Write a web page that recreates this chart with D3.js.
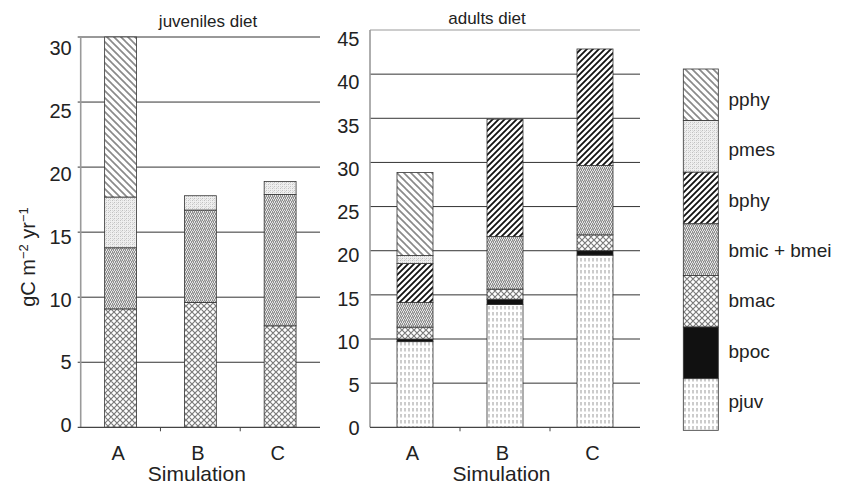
<!DOCTYPE html>
<html>
<head>
<meta charset="utf-8">
<script src="https://cdn.jsdelivr.net/npm/d3@7"></script>
<style>
  html, body { margin: 0; padding: 0; background: #fff; }
  svg { display: block; font-family: "Liberation Sans", Arial, Helvetica, sans-serif; }
</style>
</head>
<body>
<svg id="chart" width="849" height="485"></svg>
<script>
// ---------------- DATA ----------------
const categories = ["A", "B", "C"];
// stacking order bottom -> top
const seriesKeys = ["pjuv", "bpoc", "bmac", "bmic + bmei", "bphy", "pmes", "pphy"];
const legendOrder = ["pphy", "pmes", "bphy", "bmic + bmei", "bmac", "bpoc", "pjuv"];

// juveniles diet (gC m-2 yr-1)
const juvPjuv = [0, 0, 0];
const juvBpoc = [0, 0, 0];
const juvBmac = [9.1, 9.6, 7.8];
const juvBmic = [4.7, 7.1, 10.1];
const juvBphy = [0, 0, 0];
const juvPmes = [3.9, 1.1, 1.0];
const juvPphy = [12.3, 0, 0];

// adults diet (gC m-2 yr-1)
const adPjuv = [9.7, 13.9, 19.5];
const adBpoc = [0.3, 0.6, 0.5];
const adBmac = [1.35, 1.15, 1.8];
const adBmic = [2.8, 5.95, 7.85];
const adBphy = [4.4, 13.3, 13.2];
const adPmes = [0.9, 0, 0];
const adPphy = [9.4, 0, 0];

const juvTicks = [0, 5, 10, 15, 20, 25, 30];
const adTicks = [0, 5, 10, 15, 20, 25, 30, 35, 40, 45];

function buildRows(cols) {
  return categories.map((c, i) => {
    const r = { cat: c };
    seriesKeys.forEach((k, j) => r[k] = cols[j][i]);
    return r;
  });
}
const juvRows = buildRows([juvPjuv, juvBpoc, juvBmac, juvBmic, juvBphy, juvPmes, juvPphy]);
const adRows = buildRows([adPjuv, adBpoc, adBmac, adBmic, adBphy, adPmes, adPphy]);

// ---------------- PATTERNS ----------------
const svg = d3.select("#chart");
const defs = svg.append("defs");

function pat(id, w, h, bg, draw) {
  const p = defs.append("pattern").attr("id", id)
    .attr("patternUnits", "userSpaceOnUse").attr("width", w).attr("height", h);
  p.append("rect").attr("width", w).attr("height", h).attr("fill", bg);
  draw(p);
}
function px(p, pts, color) {
  pts.forEach(([a, b]) => p.append("rect").attr("x", a).attr("y", b)
    .attr("width", 1).attr("height", 1).attr("fill", color));
}
// pphy : light grey "\" hatch
pat("p-pphy", 7, 7, "#fff", p => p.append("path")
  .attr("d", "M-1,-1 L8,8 M-4.5,2.5 L0,7 L1,8 M2.5,-4.5 L8,1")
  .attr("stroke", "#8a8a8a").attr("stroke-width", 1.7));
// pmes : very light stipple
pat("p-pmes", 4, 4, "#efefef", p => {
  px(p, [[0, 0], [2, 2]], "#c0c0c0");
  px(p, [[2, 0], [0, 2], [1, 3]], "#d6d6d6");
});
// bphy : dark "/" hatch
pat("p-bphy", 6, 6, "#fff", p => p.append("path")
  .attr("d", "M-1,7 L7,-1 M-4,4 L4,-4 M2,10 L10,2")
  .attr("stroke", "#111").attr("stroke-width", 1.8));
// bmic + bmei : dense grey mottled texture
pat("p-bmic", 4, 4, "#e6e6e6", p => {
  px(p, [[0, 0], [2, 0], [1, 1], [3, 1], [1, 2], [3, 2], [0, 3], [2, 3]], "#8e8e8e");
  px(p, [[1, 0], [0, 1]], "#bcbcbc");
});
// bmac : cross hatch (diamonds)
pat("p-bmac", 6, 6, "#fff", p => p.append("path")
  .attr("d", "M0,0 L6,6 M6,0 L0,6 M-3,3 L0,6 M3,-3 L9,3 M-3,3 L3,-3 M3,9 L9,3")
  .attr("stroke", "#7a7a7a").attr("stroke-width", 1.2));
// pjuv : vertical dashes
pat("p-pjuv", 4, 6, "#fff", p => p.append("path")
  .attr("d", "M1,0 L1,3.5").attr("stroke", "#9a9a9a").attr("stroke-width", 1));

const fillFor = {
  "pphy": "url(#p-pphy)",
  "pmes": "url(#p-pmes)",
  "bphy": "url(#p-bphy)",
  "bmic + bmei": "url(#p-bmic)",
  "bmac": "url(#p-bmac)",
  "bpoc": "#111",
  "pjuv": "url(#p-pjuv)"
};

// ---------------- PANELS ----------------
const stack = d3.stack().keys(seriesKeys);

function panel(opt) {
  const g = svg.append("g");
  const x = d3.scalePoint().domain(categories).range([opt.x0, opt.x1]).padding(0.5);
  const step = x.step();
  const bw = step * 0.4;
  const y = d3.scaleLinear().domain([0, opt.max]).range([427.3, opt.top]);
  const yl = d3.scaleLinear().domain([0, opt.max]).range(opt.labelRange);

  // gridlines
  g.selectAll(".grid").data(opt.ticks.filter(t => t > 0)).join("line")
    .attr("x1", opt.x0 - opt.tickOut).attr("x2", opt.x1)
    .attr("y1", d => y(d)).attr("y2", d => y(d))
    .attr("stroke", d => (d === opt.max && opt.grayTop) ? "#9a9a9a" : "#333")
    .attr("stroke-width", 1);

  // tick labels
  g.selectAll(".tl").data(opt.ticks).join("text")
    .attr("x", opt.x0 - opt.labelGap).attr("y", d => yl(d)).attr("dy", "0.36em")
    .attr("text-anchor", "end").attr("font-size", 20).attr("fill", "#222")
    .text(d => d);

  // bars
  const series = stack(opt.rows);
  series.forEach(s => {
    g.selectAll(null).data(s.filter(d => d[1] - d[0] > 0)).join("rect")
      .attr("x", d => x(d.data.cat) - bw / 2)
      .attr("width", bw)
      .attr("y", d => y(d[1]))
      .attr("height", d => y(d[0]) - y(d[1]))
      .attr("fill", fillFor[s.key])
      .attr("stroke", "#333").attr("stroke-width", 0.8);
  });

  // y axis line
  g.append("line").attr("x1", opt.x0).attr("x2", opt.x0)
    .attr("y1", y(opt.max)).attr("y2", y(0))
    .attr("stroke", "#9a9a9a").attr("stroke-width", 1.6);
  // x axis line
  g.append("line").attr("x1", opt.x0 - opt.tickOut).attr("x2", opt.x1)
    .attr("y1", y(0)).attr("y2", y(0)).attr("stroke", "#444").attr("stroke-width", 1.2);
  // x ticks at band boundaries
  g.selectAll(".xt").data(categories.slice(1)).join("line")
    .attr("x1", d => x(d) - step / 2).attr("x2", d => x(d) - step / 2)
    .attr("y1", y(0)).attr("y2", y(0) + 4)
    .attr("stroke", "#444").attr("stroke-width", 1);

  // category labels
  g.selectAll(".cl").data(categories).join("text")
    .attr("x", d => x(d) - 2.5).attr("y", 460)
    .attr("text-anchor", "middle").attr("font-size", 20).attr("fill", "#222")
    .text(d => d);
  // axis title
  g.append("text").attr("x", (opt.x0 + opt.x1) / 2 - 3.5).attr("y", 481)
    .attr("text-anchor", "middle").attr("font-size", 21).attr("fill", "#222")
    .text("Simulation");
  // panel title
  g.append("text").attr("x", opt.titleX).attr("y", opt.titleY)
    .attr("text-anchor", "middle").attr("font-size", 17).attr("fill", "#222")
    .text(opt.title);
}

panel({ rows: juvRows, x0: 80.7, x1: 320, max: 30, top: 37, ticks: juvTicks,
        labelRange: [425, 48], labelGap: 9, tickOut: 3, grayTop: false,
        title: "juveniles diet", titleX: 208, titleY: 27 });
panel({ rows: adRows, x0: 370, x1: 640, max: 45, top: 30, ticks: adTicks,
        labelRange: [428, 39], labelGap: 10.5, tickOut: 0, grayTop: true,
        title: "adults diet", titleX: 487, titleY: 24 });

// y-axis title
const yt = svg.append("text")
  .attr("transform", "translate(35,257) rotate(-90)")
  .attr("text-anchor", "middle").attr("font-size", 20).attr("fill", "#222");
yt.append("tspan").text("gC m");
yt.append("tspan").attr("font-size", 13).attr("baseline-shift", "super").text("\u22122");
yt.append("tspan").text(" yr");
yt.append("tspan").attr("font-size", 13).attr("baseline-shift", "super").text("\u22121");

// ---------------- LEGEND ----------------
const lg = svg.append("g");
const ls = d3.scaleBand().domain(legendOrder).range([69, 430.3]);
const lt = d3.scalePoint().domain(legendOrder).range([106, 408]);
lg.selectAll("rect").data(legendOrder).join("rect")
  .attr("x", 683.3).attr("width", 35)
  .attr("y", d => ls(d)).attr("height", ls.bandwidth())
  .attr("fill", d => fillFor[d]).attr("stroke", "#333").attr("stroke-width", 0.8);
lg.selectAll("text").data(legendOrder).join("text")
  .attr("x", 728.5).attr("y", d => lt(d))
  .attr("font-size", 19).attr("fill", "#222").text(d => d);
</script>
</body>
</html>
